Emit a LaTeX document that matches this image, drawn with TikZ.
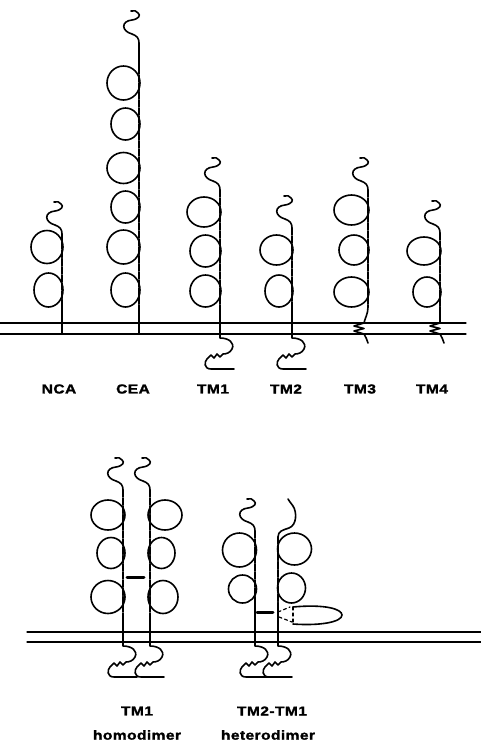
\documentclass[tikz,border=0pt]{standalone}
\usepackage{fontspec}
\newfontfamily\lblfont{Liberation Sans}[FakeStretch=1.2,LetterSpace=3,BoldFeatures={FakeBold=1.6}]
\usepackage{tikz}

% N-terminal tail, drawn upwards from the top of the stalk
\tikzset{
  ntail/.pic={
    \draw (0,0) .. controls (0,-5) and (-2,-7) .. (-7,-9)
      .. controls (-18,-12) and (-18,-22) .. (-7,-23)
      .. controls (0,-24) and (2,-28) .. (-1,-30)
      .. controls (-2,-32) and (-5,-33) .. (-8,-32);
  },
  % cytoplasmic tail below the membrane
  ctail/.pic={
    \draw (0,0) -- (0,4) .. controls (9,4) and (15,9) .. (12,15)
      .. controls (10,19) and (6,20) .. (3,20)
      -- (0,23) -- (-3,20) -- (-6,24) -- (-9,21) -- (-13,25)
      .. controls (-16,28) and (-16,35) .. (-9,35) -- (14,35);
  },
  % zigzag anchor inside the membrane
  anchor/.pic={
    \draw (0,0) -- (-10,3) -- (0,5.5) -- (-10,8) -- (0,11) .. controls (2,14) and (3,17) .. (4,20);
  },
  stalk/.style={dash pattern=on 7pt off 1.2pt},
  bond/.style={line width=3pt},
  lbl/.style={font=\lblfont\bfseries\fontsize{13}{15}\selectfont, inner sep=0pt}
}

\begin{document}
\begin{tikzpicture}[x=1pt, y=-1pt, line width=1.6pt, line join=round, line cap=round]

    \useasboundingbox (0,0) rectangle (481,745);

    % membrane, upper row
    \draw[line width=1.2pt] (0,323) -- (466,323);
    \draw[line width=1.2pt] (0,334) -- (466,334);

    % NCA
    \pic at (62,234) {ntail};
    \draw[stalk] (62,234) -- (62,307);
    \draw (62,307) -- (62,334);
    \foreach \cy/\rx/\ry in {247/16/16.5, 290/14.5/17}
      \draw (63-\rx,\cy) ellipse [x radius=\rx, y radius=\ry];

    % CEA
    \pic at (139,43) {ntail};
    \draw (139,43) -- (139,67);
    \draw[stalk] (139,67) -- (139,307);
    \draw (139,307) -- (139,334);
    \foreach \cy/\rx/\ry in {83/16.5/17, 124/14.5/16, 168/16.5/15.5, 207/14.5/16, 247/16.5/17, 290/14.5/17}
      \draw (140-\rx,\cy) ellipse [x radius=\rx, y radius=\ry];

    % TM1
    \pic at (220,190) {ntail};
    \draw[stalk] (220,190) -- (220,307);
    \draw (220,307) -- (220,334);
    \pic at (220,334) {ctail};
    \foreach \cy/\rx/\ry in {212/17/15, 251/15.5/16, 291/15.5/16}
      \draw (221-\rx,\cy) ellipse [x radius=\rx, y radius=\ry];

    % TM2
    \pic at (292,228) {ntail};
    \draw[stalk] (292,228) -- (292,307);
    \draw (292,307) -- (292,334);
    \pic at (292,334) {ctail};
    \foreach \cy/\rx/\ry in {250/16.5/15, 291/14/16}
      \draw (293-\rx,\cy) ellipse [x radius=\rx, y radius=\ry];

    % TM3
    \pic at (368,190) {ntail};
    \draw[stalk] (368,190) -- (368,307);
    \draw (368,307) .. controls (368,314) and (365,318) .. (364,323);
    \pic at (364,323) {anchor};
    \foreach \cy/\rx/\ry in {210/17.5/15, 250/15/15, 292/17.5/15}
      \draw (369-\rx,\cy) ellipse [x radius=\rx, y radius=\ry];

    % TM4
    \pic at (440,233) {ntail};
    \draw[stalk] (440,233) -- (440,307);
    \draw (440,307) -- (440,323);
    \pic at (440,323) {anchor};
    \foreach \cy/\rx/\ry in {251/17/14, 292/14/15}
      \draw (441-\rx,\cy) ellipse [x radius=\rx, y radius=\ry];

    % names, upper row
    \node[lbl] (nca) at (59,389) {NCA};
    \node[lbl] (cea) at (133,389) {CEA};
    \node[lbl] (tm1) at (213,389) {TM1};
    \node[lbl] (tm2) at (286,389) {TM2};
    \node[lbl] (tm3) at (360,389) {TM3};
    \node[lbl] (tm4) at (432,389) {TM4};

    % membrane, lower row
    \draw[line width=1.2pt] (27,632) -- (481,632);
    \draw[line width=1.2pt] (27,642) -- (481,642);

    % TM1 homodimer
    \pic at (123,490) {ntail};
    \draw[stalk] (123,490) -- (123,613);
    \draw (123,613) -- (123,642);
    \pic at (123,642) {ctail};
    \foreach \cy/\rx/\ry in {515/17/15, 553/14/15.5, 597/17/16.5}
      \draw (125-\rx,\cy) ellipse [x radius=\rx, y radius=\ry];

    \begin{scope}[shift={(150,490)}, xscale=-1]
      \pic at (0,0) {ntail};
    \end{scope}
    \draw[stalk] (150,490) -- (150,613);
    \draw (150,613) -- (150,642);
    \pic at (150,642) {ctail};
    \foreach \cy/\rx/\ry in {515/17/15, 553/13.5/15.5, 597/15/16.5}
      \draw (148+\rx,\cy) ellipse [x radius=\rx, y radius=\ry];

    \draw[bond] (127,577) -- (144,577);

    % TM2-TM1 heterodimer
    \begin{scope}[shift={(255,531)}, xscale=1.15]
      \pic at (0,0) {ntail};
    \end{scope}
    \draw[stalk] (255,531) -- (255,603);
    \draw (255,603) -- (255,642);
    \pic at (255,642) {ctail};
    \foreach \cy/\rx/\ry in {550/17/17, 589/14/14}
      \draw (256.5-\rx,\cy) ellipse [x radius=\rx, y radius=\ry];

    \draw (278,537) .. controls (278,531) and (283,530) .. (289,528)
      .. controls (297,525) and (297,512) .. (293,506)
      .. controls (291,503) and (289,501) .. (288,499);
    \draw[stalk] (278,537) -- (278,603);
    \draw (278,603) -- (278,642);
    \pic at (278,642) {ctail};
    \foreach \cy/\rx/\ry in {549/17/16, 588/14/15}
      \draw (277.5+\rx,\cy) ellipse [x radius=\rx, y radius=\ry];

    % displaced third domain
    \draw (293,607) .. controls (325,604) and (342,609) .. (342,615)
      .. controls (342,622) and (320,626) .. (293,624);
    \draw[dashed, line width=1.2pt] (293,607) -- (293,624);
    \draw[dashed, line width=1.2pt] (278,612) -- (290,607);
    \draw[dashed, line width=1.2pt] (279,617) -- (292,622);

    \draw[bond] (257,612) -- (273,612);

    % names, lower row
    \node[lbl] (homo) at (137,711) {TM1};
    \node[lbl] (homotxt) at (137,735) {homodimer};
    \node[lbl] (hetero) at (272,711) {TM2-TM1};
    \node[lbl] (heterotxt) at (268,735) {heterodimer};

\end{tikzpicture}
\end{document}
